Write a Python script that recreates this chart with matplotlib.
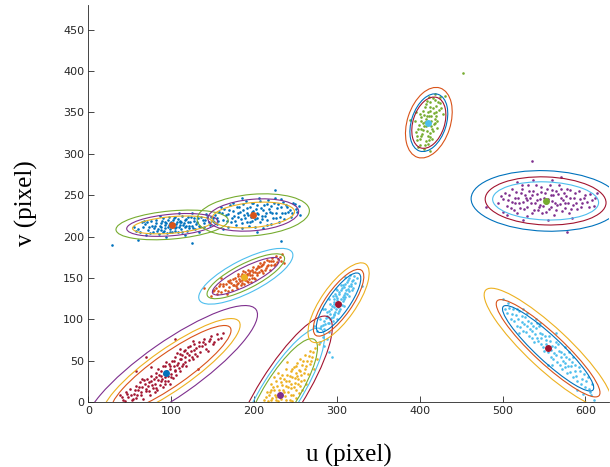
import matplotlib
matplotlib.use('Agg')
import numpy as np
import matplotlib.pyplot as plt
from matplotlib.patches import Ellipse

# matlab default colours
c_blue = '#0072BD'
c_orange = '#D95319'
c_yellow = '#EDB120'
c_purple = '#7E2F8E'
c_green = '#77AC30'
c_cyan = '#4DBEEE'
c_red = '#A2142F'

a_pts = [(55, 212), (62, 206), (68, 215), (72, 208), (75, 219), (78, 205), (80, 213), (82, 220), (84, 209),
         (85, 203), (87, 216), (88, 211), (90, 222), (91, 207), (92, 214), (93, 218), (95, 204), (96, 212),
         (97, 224), (98, 209), (99, 216), (100, 213), (101, 206), (102, 220), (103, 215), (104, 210),
         (105, 223), (106, 212), (107, 217), (108, 205), (110, 219), (111, 214), (112, 209), (113, 225),
         (115, 216), (116, 211), (118, 221), (119, 207), (120, 218), (122, 213), (124, 224), (126, 210),
         (128, 219), (130, 215), (132, 222), (135, 211), (138, 220), (140, 216), (143, 223), (147, 214),
         (150, 219), (58, 207), (65, 217), (70, 202), (77, 213), (86, 225), (94, 199), (109, 228), (117, 202),
         (125, 229), (134, 206), (142, 227), (28, 190), (60, 196), (125, 192), (155, 222),
         (60, 209), (66, 211), (71, 217), (74, 204), (79, 210), (81, 216), (83, 207), (86, 213), (89, 219),
         (90, 205), (92, 210), (94, 216), (96, 220), (98, 206), (100, 218), (101, 211), (103, 222), (104, 207),
         (106, 215), (108, 221), (109, 211), (111, 218), (113, 206), (114, 214), (116, 220), (118, 213),
         (120, 224), (121, 210), (123, 217), (125, 213), (127, 222), (129, 209), (131, 218), (133, 213),
         (136, 224), (139, 212), (141, 220), (145, 218), (148, 223), (152, 217), (67, 219), (73, 212),
         (87, 208), (97, 214), (112, 217)]

b_pts = [(150, 222), (155, 215), (158, 230), (160, 236), (163, 220), (166, 226), (168, 212), (170, 232),
         (172, 218), (174, 240), (176, 225), (178, 214), (180, 229), (182, 236), (184, 221), (186, 210),
         (187, 232), (188, 226), (190, 243), (191, 218), (192, 229), (194, 213), (195, 236), (196, 224),
         (197, 230), (198, 219), (199, 241), (200, 226), (201, 212), (202, 233), (203, 222), (204, 229),
         (206, 246), (207, 217), (208, 234), (210, 225), (211, 210), (212, 238), (214, 229), (215, 220),
         (217, 244), (218, 233), (220, 215), (222, 228), (224, 240), (226, 222), (228, 235), (230, 217),
         (232, 245), (234, 229), (236, 221), (238, 238), (241, 230), (244, 224), (247, 241), (250, 233),
         (254, 237), (162, 209), (185, 247), (256, 226), (225, 256), (232, 194), (203, 205),
         (153, 226), (157, 219), (161, 228), (164, 233), (167, 219), (169, 227), (171, 238), (173, 222),
         (175, 231), (177, 219), (179, 236), (181, 224), (183, 230), (185, 216), (187, 239), (189, 222),
         (191, 234), (193, 226), (195, 218), (197, 240), (199, 231), (201, 221), (203, 238), (205, 227),
         (207, 243), (209, 221), (211, 232), (213, 225), (215, 239), (216, 214), (219, 230), (221, 237),
         (223, 222), (225, 246), (227, 229), (229, 239), (231, 224), (233, 236), (235, 242), (237, 228),
         (240, 236), (243, 232), (246, 228), (249, 239), (252, 230)]

c_pts = [(148, 128), (152, 135), (155, 130), (158, 140), (160, 133), (162, 143), (165, 136), (167, 130),
         (168, 146), (170, 139), (172, 144), (173, 136), (175, 149), (176, 141), (178, 146), (179, 138),
         (180, 152), (181, 144), (182, 149), (184, 141), (185, 155), (186, 147), (187, 151), (188, 143),
         (189, 157), (190, 150), (191, 146), (192, 155), (193, 160), (194, 149), (195, 153), (196, 145),
         (197, 159), (198, 154), (199, 163), (200, 150), (201, 157), (202, 161), (203, 153), (205, 164),
         (206, 157), (207, 168), (208, 160), (210, 165), (211, 156), (212, 169), (214, 162), (215, 172),
         (217, 166), (219, 159), (220, 170), (222, 174), (224, 166), (226, 176), (228, 169), (231, 175),
         (234, 179), (140, 138), (236, 168), (160, 150),
         (150, 134), (154, 138), (157, 134), (159, 143), (163, 140), (166, 143), (169, 134), (171, 148),
         (174, 141), (177, 150), (179, 143), (181, 155), (183, 146), (185, 144), (187, 158), (189, 148),
         (191, 153), (193, 145), (195, 158), (197, 150), (199, 157), (201, 149), (203, 162), (204, 156),
         (206, 163), (209, 158), (211, 167), (213, 159), (216, 164), (218, 171), (221, 165), (223, 171),
         (225, 167), (229, 173), (232, 170), (170, 145), (184, 152), (194, 156), (208, 164), (178, 140)]

d_pts = [(38, 8), (42, 3), (45, 12), (48, 6), (50, 16), (52, 2), (55, 10), (57, 20), (58, 5), (60, 14),
         (62, 24), (63, 9), (65, 18), (66, 4), (68, 22), (70, 13), (71, 28), (72, 19), (74, 8), (75, 25),
         (76, 32), (78, 17), (79, 28), (80, 22), (82, 35), (83, 14), (84, 27), (85, 33), (86, 21), (88, 38),
         (89, 28), (90, 18), (91, 34), (92, 43), (93, 25), (95, 38), (96, 31), (97, 46), (98, 22), (99, 40),
         (100, 34), (101, 50), (102, 29), (103, 44), (104, 38), (105, 55), (106, 33), (108, 47), (109, 41),
         (110, 58), (111, 37), (112, 52), (114, 46), (115, 62), (116, 54), (118, 43), (119, 59), (120, 66),
         (122, 51), (124, 62), (125, 55), (127, 70), (129, 58), (130, 65), (133, 72), (135, 60), (137, 68),
         (140, 76), (142, 64), (145, 74), (148, 80), (152, 72), (155, 82), (160, 78), (58, 38), (132, 40),
         (75, 42), (70, 54), (104, 76),
         (40, 6), (44, 1), (47, 10), (51, 9), (54, 4), (56, 15), (59, 9), (61, 18), (64, 12), (67, 27),
         (69, 16), (73, 24), (73, 13), (77, 21), (81, 30), (81, 17), (84, 40), (87, 26), (87, 31), (90, 44),
         (92, 30), (94, 35), (94, 48), (96, 26), (99, 44), (100, 30), (103, 50), (105, 39), (107, 45),
         (107, 59), (110, 52), (113, 44), (113, 57), (117, 49), (117, 63), (121, 57), (123, 68), (126, 52),
         (128, 63), (131, 56), (134, 68), (138, 72), (141, 70), (144, 62), (147, 76), (150, 70), (157, 76),
         (163, 84), (65, 28), (80, 12), (111, 64), (126, 74), (92, 22)]

e_pts = [(212, 3), (218, 8), (221, 2), (224, 14), (226, 6), (228, 19), (229, 1), (230, 10), (232, 24),
         (233, 4), (235, 15), (236, 28), (237, 7), (238, 20), (240, 33), (241, 12), (242, 25), (243, 2),
         (244, 38), (245, 17), (246, 30), (247, 9), (248, 42), (249, 23), (250, 35), (251, 14), (252, 47),
         (253, 28), (254, 39), (255, 20), (256, 52), (257, 33), (258, 45), (260, 27), (261, 57), (262, 40),
         (264, 50), (265, 34), (267, 62), (268, 46), (270, 55), (272, 40), (274, 65), (276, 52), (224, 30),
         (240, 48), (258, 14), (215, 12), (220, 22), (229, 35), (250, 5), (263, 22), (278, 70),
         (214, 6), (217, 1), (219, 12), (222, 5), (223, 18), (225, 9), (227, 3), (227, 25), (230, 15),
         (231, 6), (234, 21), (234, 33), (236, 12), (239, 26), (239, 3), (241, 18), (243, 31), (245, 8),
         (246, 40), (248, 18), (249, 29), (251, 44), (253, 22), (254, 11), (256, 38), (257, 26), (259, 50),
         (260, 35), (263, 44), (266, 56), (269, 50), (271, 60), (239, 40), (246, 1), (252, 32), (244, 22),
         (231, 29), (220, 15)]

f_pts = [(276, 86), (281, 92), (285, 88), (284, 98), (289, 95), (288, 104), (293, 101), (291, 110),
         (296, 107), (294, 116), (299, 112), (297, 121), (302, 118), (300, 126), (305, 124), (303, 133),
         (308, 129), (306, 138), (311, 135), (310, 143), (314, 140), (313, 148), (318, 146), (316, 153),
         (321, 152), (286, 112), (291, 124), (298, 131), (305, 142), (309, 116), (315, 128), (320, 138),
         (295, 98), (290, 85), (280, 100), (297, 105), (303, 110), (307, 122), (312, 131), (317, 140),
         (299, 137), (324, 150), (272, 92), (283, 79), (330, 140), (300, 100), (295, 128), (283, 113),
         (310, 151), (285, 68), (290, 60), (294, 55), (288, 76), (279, 73),
         (279, 90), (283, 93), (287, 101), (290, 96), (292, 106), (295, 103), (293, 113), (298, 109),
         (296, 119), (301, 115), (300, 123), (304, 120), (302, 130), (307, 127), (305, 135), (310, 132),
         (309, 139), (313, 137), (312, 145), (317, 143), (315, 150), (319, 148), (288, 109), (292, 118),
         (296, 124), (299, 128), (301, 108), (304, 113), (306, 117), (308, 124), (310, 127), (314, 134),
         (297, 115), (292, 100), (286, 94), (318, 135), (322, 144), (300, 135), (307, 142), (289, 103)]

g_pts = [(398, 308), (405, 306), (410, 312), (400, 318), (407, 315), (413, 320), (396, 326), (403, 324),
         (409, 328), (416, 327), (399, 335), (405, 333), (411, 338), (417, 336), (421, 340), (402, 344),
         (408, 342), (414, 346), (420, 345), (404, 352), (410, 350), (416, 355), (423, 353), (407, 360),
         (413, 362), (419, 365), (425, 361), (411, 369), (418, 372), (424, 368), (394, 340), (428, 348),
         (401, 330), (415, 330), (410, 322), (420, 358), (397, 316), (412, 352), (406, 338), (418, 342),
         (430, 370), (388, 341), (452, 397), (395, 350), (412, 303),
         (400, 310), (406, 311), (402, 321), (411, 316), (398, 330), (404, 329), (412, 325), (401, 339),
         (408, 334), (414, 333), (419, 337), (405, 347), (411, 345), (417, 349), (406, 356), (413, 357),
         (420, 351), (409, 364), (416, 367), (422, 363), (400, 348), (426, 355), (397, 322), (421, 331),
         (414, 340), (409, 345), (404, 337), (415, 318)]

h_pts = [(495, 240), (500, 230), (503, 252), (507, 244), (510, 235), (512, 258), (515, 247), (517, 228),
         (520, 240), (522, 253), (524, 262), (526, 233), (528, 246), (530, 225), (532, 255), (534, 241),
         (536, 250), (538, 232), (540, 262), (542, 244), (544, 236), (546, 254), (548, 228), (550, 247),
         (552, 240), (554, 258), (556, 233), (558, 250), (560, 243), (562, 226), (564, 255), (566, 238),
         (568, 262), (570, 246), (572, 231), (574, 252), (576, 240), (578, 257), (580, 229), (582, 246),
         (585, 238), (588, 253), (590, 233), (593, 245), (596, 240), (600, 250), (604, 236), (608, 244),
         (612, 247), (498, 249), (518, 266), (537, 268), (560, 268), (584, 222), (525, 220), (555, 220),
         (505, 226), (570, 272), (536, 291), (610, 237), (614, 252), (480, 236), (578, 206),
         (500, 245), (505, 237), (508, 250), (511, 242), (514, 232), (516, 254), (519, 246), (521, 234),
         (523, 258), (525, 242), (527, 250), (529, 236), (531, 262), (533, 247), (535, 229), (537, 255),
         (539, 240), (541, 251), (543, 232), (545, 245), (547, 260), (549, 237), (551, 252), (553, 230),
         (555, 245), (557, 262), (559, 236), (561, 250), (563, 241), (565, 232), (567, 251), (569, 239),
         (571, 258), (573, 244), (575, 234), (577, 249), (579, 241), (581, 256), (583, 233), (586, 247),
         (589, 240), (592, 255), (595, 236), (598, 246), (602, 242), (606, 251), (515, 240), (530, 244),
         (545, 238), (560, 256)]

i_pts = [(503, 112), (507, 120), (510, 100), (513, 113), (516, 105), (518, 92), (520, 110), (523, 97),
         (525, 86), (527, 103), (530, 92), (532, 80), (534, 96), (536, 86), (538, 72), (540, 89), (542, 78),
         (544, 92), (546, 70), (548, 82), (550, 62), (552, 75), (554, 66), (556, 80), (558, 55), (560, 68),
         (562, 59), (564, 73), (566, 48), (568, 62), (570, 54), (572, 40), (574, 58), (576, 47), (578, 35),
         (580, 52), (583, 43), (585, 30), (588, 45), (590, 25), (593, 37), (596, 28), (600, 18), (603, 30),
         (606, 12), (540, 100), (520, 83), (565, 84), (585, 55), (597, 10), (500, 124), (608, 22), (555, 45),
         (530, 108), (575, 66), (610, 3),
         (505, 108), (508, 114), (511, 107), (514, 98), (517, 112), (519, 100), (521, 91), (524, 104),
         (526, 94), (528, 85), (531, 98), (533, 88), (535, 77), (537, 92), (539, 82), (541, 95), (543, 74),
         (545, 84), (547, 77), (549, 66), (551, 80), (553, 70), (555, 60), (557, 74), (559, 63), (561, 52),
         (563, 66), (565, 57), (567, 70), (569, 45), (571, 60), (573, 50), (575, 42), (577, 55), (579, 44),
         (581, 36), (584, 48), (587, 38), (589, 31), (592, 42), (595, 22), (598, 34), (601, 26), (604, 16),
         (607, 8), (560, 45), (545, 96), (580, 60), (525, 112), (590, 15)]

# ---- projected points (markers) ----
proj_u = [101, 199, 188, 93.4, 231.4, 301, 410.5, 552, 554.7]
proj_v = [214, 226, 151, 34.6, 8.5, 119, 337.3, 242.7, 64.8]

# ---- uncertainty ellipses: centre, angle (deg), semi axes for 3 levels ----
ell_u = [101, 199, 190, 100, 233, 302, 411, 552, 555]
ell_v = [214, 226, 152, 40, 12, 120, 337.5, 243, 65]
ell_ang = [5, 5, 27, 35, 58, 55, 72, -2, -43]
ell_a = [(48, 55, 68), (50, 55, 68), (45, 52, 63), (87, 100, 125), (75, 90, 107),
         (43, 48, 57), (32, 36, 44), (64, 73, 90), (74, 84, 103)]
ell_b = [(10, 13, 17), (15, 19, 25), (11, 15, 20), (20, 25, 33), (21, 24, 28),
         (13, 16, 21), (19, 21, 26), (23, 29, 36.5), (15, 18, 25)]

pts = [a_pts, b_pts, c_pts, d_pts, e_pts, f_pts, g_pts, h_pts, i_pts]
pt_col = [c_blue, c_blue, c_orange, c_red, c_yellow, c_cyan, c_green, c_purple, c_cyan]
proj_col = [c_orange, c_orange, c_yellow, c_blue, c_purple, c_red, c_cyan, c_green, c_red]
ell_col = [(c_yellow, c_purple, c_green), (c_yellow, c_purple, c_green),
           (c_purple, c_green, c_cyan), (c_orange, c_yellow, c_purple),
           (c_green, c_cyan, c_red), (c_blue, c_orange, c_yellow),
           (c_red, c_blue, c_orange), (c_cyan, c_red, c_blue),
           (c_blue, c_orange, c_yellow)]

fig = plt.figure(figsize=(6.1, 4.67), dpi=100)
ax = fig.add_axes([0.145, 0.139, 0.854, 0.85])

for k in range(len(pts)):
    uv = np.array(pts[k])
    ax.scatter(uv[:, 0], uv[:, 1], s=3.5, color=pt_col[k], linewidths=0, zorder=2)
    for j in range(3):
        e = Ellipse((ell_u[k], ell_v[k]), 2 * ell_a[k][j], 2 * ell_b[k][j], angle=ell_ang[k],
                    fill=False, edgecolor=ell_col[k][j], linewidth=0.8, zorder=3)
        ax.add_patch(e)
    ax.plot(proj_u[k], proj_v[k], 'o', color=proj_col[k], markersize=5, markeredgewidth=0, zorder=4)

ax.set_xlim(0, 629)
ax.set_ylim(0, 479.5)
ax.set_xticks(np.arange(0, 601, 100))
ax.set_yticks(np.arange(0, 451, 50))
ax.tick_params(direction='in', length=4, width=0.6, color='#262626', labelsize=8,
               labelcolor='#262626', pad=3)
for s in ['top', 'right']:
    ax.spines[s].set_visible(False)
for s in ['left', 'bottom']:
    ax.spines[s].set_color('#262626')
    ax.spines[s].set_linewidth(0.6)

ax.set_xlabel('u (pixel)', family='Liberation Serif', fontsize=18, labelpad=20)
ax.set_ylabel('v (pixel)', family='Liberation Serif', fontsize=18, labelpad=18)

fig.savefig('out.png', dpi=100)
